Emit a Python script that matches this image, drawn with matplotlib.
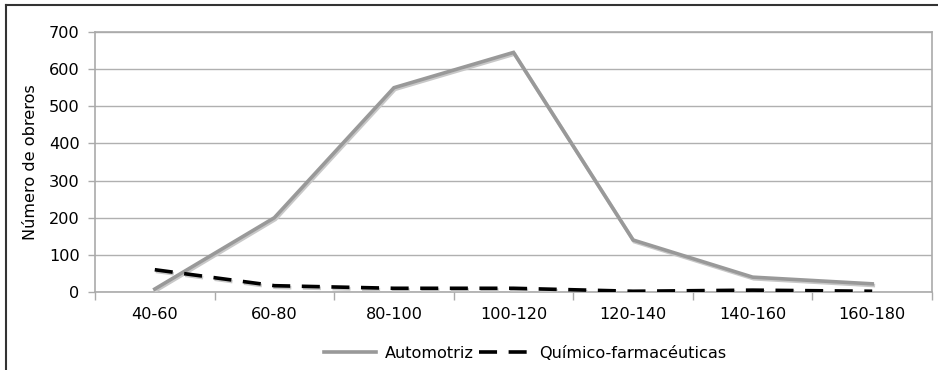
import matplotlib
matplotlib.use("Agg")
import matplotlib.pyplot as plt
import matplotlib.patheffects as pe
from matplotlib.lines import Line2D

categories = ["40-60", "60-80", "80-100", "100-120", "120-140", "140-160", "160-180"]
automotriz = [8, 200, 550, 645, 140, 40, 22]
quimico = [60, 17, 10, 10, 2, 5, 2]
yticks = [0, 100, 200, 300, 400, 500, 600, 700]

plt.rcParams['font.family'] = ['DejaVu Sans']
FS = 11.6

W, H = 938, 370
fig = plt.figure(figsize=(W / 100, H / 100), dpi=100)
ax = fig.add_axes([95 / W, 1 - 292 / H, (932 - 95) / W, (292 - 32) / H])

x = list(range(len(categories)))
shadow = [pe.SimpleLineShadow(offset=(0.8, -1.2), shadow_color='#c8c8c8', alpha=1.0), pe.Normal()]
ax.plot(x, automotriz, color='#999999', lw=2.6, solid_joinstyle='miter',
        path_effects=shadow, label='Automotriz', zorder=3)
ax.plot(x, quimico, color='black', lw=2.6, dashes=(5, 3.2),
        path_effects=shadow, label='Químico-farmacéuticas', zorder=4)

ax.set_xlim(-0.5, len(categories) - 0.5)
ax.set_ylim(0, 700)
ax.set_yticks(yticks)
ax.set_xticks(x)
ax.set_xticklabels(categories)
ax.set_xticks([i - 0.5 for i in range(len(categories) + 1)], minor=True)
ax.tick_params(axis='x', which='major', length=0, pad=11, labelsize=FS)
ax.tick_params(axis='x', which='minor', length=6, color='#aaaaaa', width=1)
ax.tick_params(axis='y', length=5, color='#aaaaaa', width=1, labelsize=FS, pad=6)
ax.yaxis.grid(True, color='#b0b0b0', lw=1)
ax.set_axisbelow(True)
for s in ax.spines.values():
    s.set_color('#aaaaaa')
    s.set_linewidth(1.2)
ax.set_ylabel('Número de obreros', fontsize=FS, labelpad=8)

handles = [Line2D([], [], color='#999999', lw=2.6),
           Line2D([], [], color='black', lw=2.6, dashes=(5, 3.2))]
fig.legend(handles, ['Automotriz', 'Químico-farmacéuticas'], loc='center',
           bbox_to_anchor=(0.56, 1 - 353 / H), ncol=2, frameon=False,
           fontsize=FS, handlelength=3.2, handletextpad=0.55, columnspacing=0.35)

# outer frame
fig.add_artist(Line2D([6 / W, 6 / W], [0, 1 - 5 / H], color='#333333', lw=1.5))
fig.add_artist(Line2D([6 / W, 1], [1 - 5 / H, 1 - 5 / H], color='#333333', lw=1.5))

fig.savefig('out.png', dpi=100)
